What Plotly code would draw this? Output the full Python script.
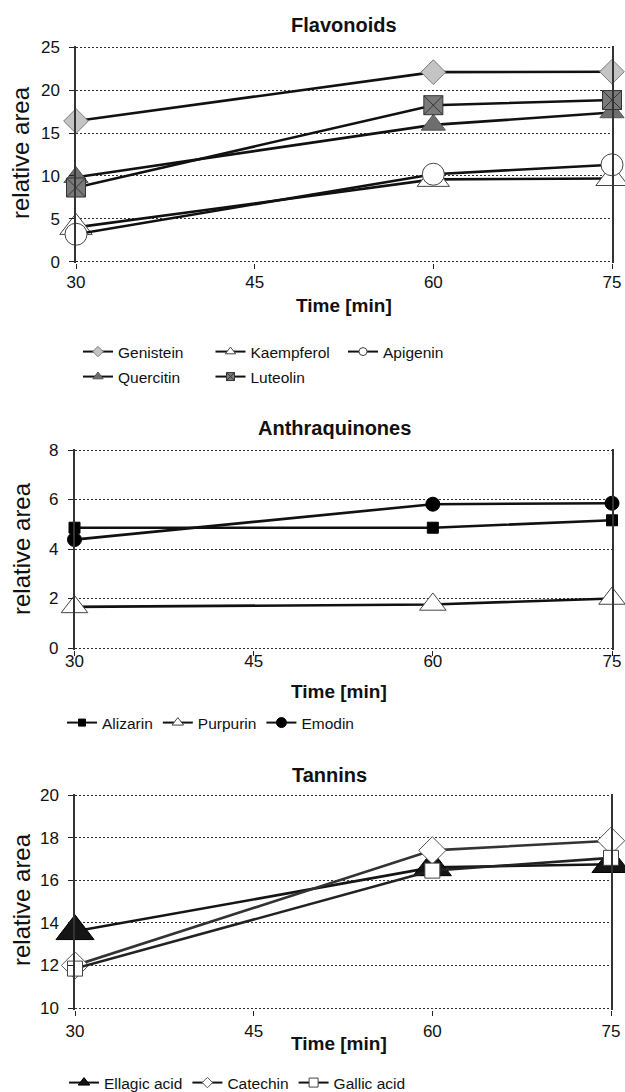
import plotly.graph_objects as go

# ---- data -------------------------------------------------------------
time_min = [30, 60, 75]

flav_names = ["Genistein", "Kaempferol", "Apigenin", "Quercitin", "Luteolin"]
genistein = [16.4, 22.1, 22.15]
kaempferol = [4.0, 9.6, 9.7]
apigenin = [3.2, 10.2, 11.3]
quercitin = [9.85, 15.95, 17.4]
luteolin = [8.65, 18.25, 18.85]

anthra_names = ["Alizarin", "Purpurin", "Emodin"]
alizarin = [4.86, 4.86, 5.16]
purpurin = [1.66, 1.76, 2.0]
emodin = [4.38, 5.81, 5.85]

tannin_names = ["Ellagic acid", "Catechin", "Gallic acid"]
ellagic = [13.6, 16.6, 16.75]
catechin = [12.0, 17.4, 17.85]
gallic = [11.85, 16.45, 17.05]

x_ticks = [30, 45, 60, 75]

# ---- layout helpers ---------------------------------------------------
W, H = 625, 1092
FONT = "Liberation Sans, Arial, sans-serif"
NARROW = "Liberation Sans Narrow, Liberation Sans, Arial, sans-serif"


def panel(left, right, top_px, bottom_px, lo, hi, pad_px=1.5):
    per_px = (hi - lo) / (bottom_px - top_px)
    pad = pad_px * per_px
    return dict(
        xdom=[left / W, right / W],
        ydom=[1 - (bottom_px + pad_px) / H, 1 - (top_px - pad_px) / H],
        yrange=[lo - pad, hi + pad],
    )


P1 = panel(76, 612, 47.3, 261.7, 0, 25)
P2 = panel(74.5, 612, 450, 648, 0, 8)
P3 = panel(75, 611, 795, 1008, 10, 20)

LINE = "#111111"

fig = go.Figure()


def add_series(name, y, xa, ya, symbol, size, fill, edge, line_color=LINE, edge_w=1):
    fig.add_trace(go.Scatter(
        x=time_min, y=y, name=name, xaxis=xa, yaxis=ya,
        mode="lines+markers", showlegend=False, cliponaxis=False,
        line=dict(color=line_color, width=2.6),
        marker=dict(symbol=symbol, size=size, color=fill,
                    line=dict(color=edge, width=edge_w)),
    ))


def add_key(name, legend, symbol, size, fill, edge, line_color=LINE, edge_w=1):
    fig.add_trace(go.Scatter(
        x=[None], y=[None], name=name, xaxis="x", yaxis="y",
        mode="lines+markers", legend=legend, showlegend=True,
        line=dict(color=line_color, width=2),
        marker=dict(symbol=symbol, size=size, color=fill,
                    line=dict(color=edge, width=edge_w)),
    ))


# Flavonoids
flav_styles = [
    ("diamond", 19, "#c4c4c4", "#7a7a7a"),
    ("triangle-up", 28, "#ffffff", "#444444"),
    ("circle", 22, "#ffffff", "#444444"),
    ("triangle-up", 21, "#6e6e6e", "#555555"),
    ("square-x", 19, "#7a7a7a", "#333333"),
]
for name, vals, st in zip(flav_names, [genistein, kaempferol, apigenin, quercitin, luteolin], flav_styles):
    add_series(name, vals, "x", "y", *st)

# Anthraquinones
anthra_styles = [
    ("square", 11, "#000000", "#000000"),
    ("triangle-up", 23, "#ffffff", "#444444"),
    ("circle", 14, "#000000", "#000000"),
]
for name, vals, st in zip(anthra_names, [alizarin, purpurin, emodin], anthra_styles):
    add_series(name, vals, "x2", "y2", *st)

# Tannins
tannin_styles = [
    ("triangle-up", 33, "#151515", "#000000", "#151515"),
    ("diamond", 21, "#ffffff", "#555555", "#333333"),
    ("square", 15, "#ffffff", "#444444", "#222222"),
]
for name, vals, st in zip(tannin_names, [ellagic, catechin, gallic], tannin_styles):
    add_series(name, vals, "x3", "y3", *st)

# ---- legend keys (small symbols) --------------------------------------
add_key("Genistein", "legend", "diamond", 8, "#c4c4c4", "#7a7a7a")
add_key("Kaempferol", "legend", "triangle-up", 9, "#ffffff", "#444444")
add_key("Apigenin", "legend", "circle", 8, "#ffffff", "#444444")
add_key("Quercitin", "legend2", "triangle-up", 9, "#6e6e6e", "#555555")
add_key("Luteolin", "legend2", "square-x", 8, "#7a7a7a", "#333333")
add_key("Alizarin", "legend3", "square", 7, "#000000", "#000000")
add_key("Purpurin", "legend3", "triangle-up", 10, "#ffffff", "#444444")
add_key("Emodin", "legend3", "circle", 10, "#000000", "#000000")
add_key("Ellagic acid", "legend4", "triangle-up", 10, "#151515", "#000000")
add_key("Catechin", "legend4", "diamond", 8, "#ffffff", "#555555")
add_key("Gallic acid", "legend4", "square", 9, "#ffffff", "#444444")


def xaxis(p, anchor, standoff):
    return dict(
        domain=p["xdom"], anchor=anchor, range=[30, 75],
        tickmode="array", tickvals=x_ticks,
        showgrid=False, zeroline=False, showline=False,
        ticks="outside", ticklen=5, tickcolor="#222222",
        ticklabelstandoff=standoff,
        tickfont=dict(family=NARROW, size=17, color="#111111"),
    )


def yaxis(p, anchor, dtick):
    return dict(
        domain=p["ydom"], anchor=anchor, range=p["yrange"],
        tick0=0, dtick=dtick,
        showgrid=True, gridcolor="#2e2e2e", gridwidth=1.2, griddash="2px,2px",
        zeroline=False, showline=True, linecolor="#333333", linewidth=1.5,
        mirror=True,
        ticks="outside", ticklen=5, tickcolor="#222222",
        ticklabelstandoff=6,
        tickfont=dict(family=FONT, size=17, color="#111111"),
    )


def legend_box(x_px, y_px, entrywidth=0):
    d = dict(
        orientation="h", x=x_px / W, xanchor="left",
        y=1 - y_px / H, yanchor="middle",
        bgcolor="rgba(0,0,0,0)", borderwidth=0,
        font=dict(family=FONT, size=15.5, color="#111111"),
        itemwidth=30, traceorder="normal", tracegroupgap=0,
    )
    if entrywidth:
        d.update(entrywidth=entrywidth, entrywidthmode="pixels")
    return d


def label(text, x_px, y_px, size, bold=False, angle=0):
    return dict(
        text=f"<b>{text}</b>" if bold else text,
        x=x_px / W, y=1 - y_px / H, xref="paper", yref="paper",
        xanchor="center", yanchor="middle", showarrow=False, textangle=angle,
        font=dict(family=FONT, size=size, color="#111111"),
    )


fig.update_layout(
    width=W, height=H,
    margin=dict(l=0, r=0, t=0, b=0, autoexpand=False),
    paper_bgcolor="white", plot_bgcolor="white",
    xaxis=xaxis(P1, "y", -2),
    yaxis=yaxis(P1, "x", 5),
    xaxis2=xaxis(P2, "y2", -9),
    yaxis2=yaxis(P2, "x2", 2),
    xaxis3=xaxis(P3, "y3", 1),
    yaxis3=yaxis(P3, "x3", 2),
    legend=legend_box(78, 352, 87.5),
    legend2=legend_box(78, 377, 87.5),
    legend3=legend_box(62, 723),
    legend4=legend_box(64, 1083),
    annotations=[
        label("Flavonoids", 344, 25, 20, bold=True),
        label("Anthraquinones", 334, 428, 20, bold=True),
        label("Tannins", 329, 775, 20, bold=True),
        label("Time [min]", 344, 305, 19, bold=True),
        label("Time [min]", 339, 691, 19, bold=True),
        label("Time [min]", 339, 1043, 19, bold=True),
        label("relative area", 21, 153, 24, angle=-90),
        label("relative area", 21, 549, 24, angle=-90),
        label("relative area", 21, 900, 24, angle=-90),
    ],
)

fig.write_html("out.html")
